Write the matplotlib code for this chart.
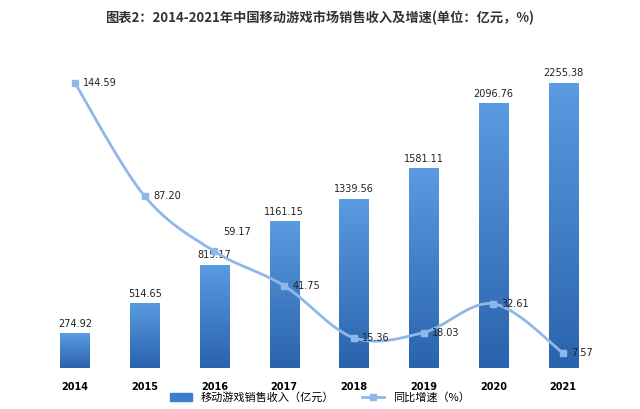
import numpy as np
import matplotlib
matplotlib.use("Agg")
import matplotlib.pyplot as plt
from matplotlib.patches import Patch
from matplotlib.lines import Line2D
from matplotlib.colors import LinearSegmentedColormap

plt.rcParams["font.family"] = ["Noto Sans CJK SC"]

years = ["2014", "2015", "2016", "2017", "2018", "2019", "2020", "2021"]
revenue = [274.92, 514.65, 819.17, 1161.15, 1339.56, 1581.11, 2096.76, 2255.38]
growth = [144.59, 87.20, 59.17, 41.75, 15.36, 18.03, 32.61, 7.57]

fig = plt.figure(figsize=(6.4, 4.09), dpi=100)
ax = fig.add_axes([0.0625, 0.10, 0.872, 0.827])
x = np.arange(len(years))
bars = ax.bar(x, revenue, width=0.42, color="#3b7dd0", zorder=2)
ax.set_xlim(-0.5, 7.5)
ax.set_ylim(0, 2675)
grad = np.linspace(0, 1, 256).reshape(-1, 1)
cmap = LinearSegmentedColormap.from_list("g", ["#2a63ad", "#5a9be2"])
for b in bars:
    x0, w, h = b.get_x(), b.get_width(), b.get_height()
    im = ax.imshow(grad, extent=[x0, x0 + w, 0, h], origin="lower", cmap=cmap,
                   aspect="auto", zorder=2)
    im.set_clip_path(b)
for xi, v in zip(x, revenue):
    ax.text(xi, v + 35, f"{v:.2f}", ha="center", va="bottom", fontsize=7,
            family="DejaVu Sans", color="#222222")
for s in ax.spines.values():
    s.set_visible(False)
ax.set_yticks([])
ax.set_xticks(x)
ax.set_xticklabels(years, fontsize=7, fontweight="bold", family="DejaVu Sans")
ax.tick_params(axis="x", length=0, pad=10)
ax.set_aspect("auto")

ax2 = ax.twinx()
ax2.set_ylim(0, 171.5)
ax2.set_yticks([])
for s in ax2.spines.values():
    s.set_visible(False)
pts = np.column_stack([x, growth]).astype(float)
P = np.vstack([pts[0], pts, pts[-1]])
cx, cy = [], []
for i in range(1, len(P) - 2):
    p0, p1, p2, p3 = P[i - 1], P[i], P[i + 1], P[i + 2]
    t = np.linspace(0, 1, 30)[:, None]
    c = 0.5 * ((2 * p1) + (-p0 + p2) * t + (2 * p0 - 5 * p1 + 4 * p2 - p3) * t**2
               + (-p0 + 3 * p1 - 3 * p2 + p3) * t**3)
    cx.extend(c[:, 0]); cy.extend(c[:, 1])
ax2.plot(cx, cy, color="#8fb8e8", lw=2, zorder=3)
ax2.plot(x, growth, "s", color="#8fb8e8", ms=5, zorder=4)
for i, (xi, v) in enumerate(zip(x, growth)):
    dy = 10 if i == 2 else 0
    ax2.text(xi + 0.12, v + dy, f"{v:.2f}", ha="left", va="center", fontsize=7,
             family="DejaVu Sans", color="#222222", zorder=5)

fig.text(0.5, 0.955, "图表2：2014-2021年中国移动游戏市场销售收入及增速(单位：亿元，%)",
         ha="center", va="center", fontsize=9.5, fontweight="bold", color="#333333")
handles = [Patch(color="#3b7dd0"),
           Line2D([], [], color="#8fb8e8", lw=2, marker="s", ms=5)]
fig.legend(handles, ["移动游戏销售收入（亿元）", "同比增速（%）"], loc="lower center",
           bbox_to_anchor=(0.5, -0.01), ncol=2, frameon=False, fontsize=8,
           columnspacing=2.5)
fig.savefig("out.png", dpi=100)
